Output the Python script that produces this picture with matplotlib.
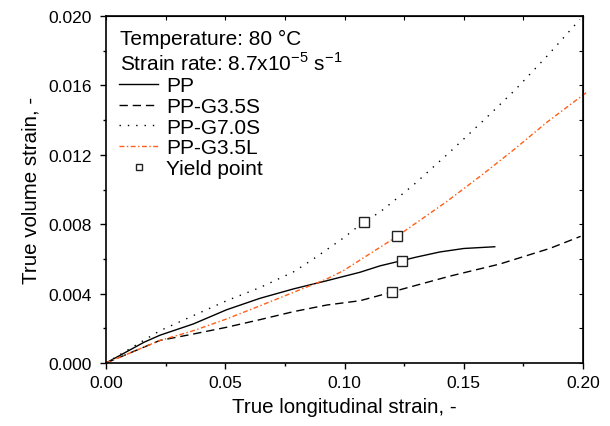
import matplotlib
matplotlib.use("Agg")
import matplotlib.pyplot as plt
from matplotlib.ticker import MultipleLocator, FormatStrFormatter

plt.rcParams['font.family'] = ['Liberation Sans', 'DejaVu Sans']

# ---- data ----
pp_x = [0, 0.016, 0.0226, 0.0366, 0.0506, 0.0646, 0.0786, 0.0925, 0.1065, 0.1149, 0.124, 0.130, 0.140, 0.150, 0.163]
pp_y = [0, 0.0012, 0.0016, 0.00225, 0.00307, 0.00373, 0.00427, 0.00474, 0.00523, 0.0056, 0.0059, 0.0061, 0.0064, 0.0066, 0.0067]

g35s_x = [0, 0.0226, 0.0366, 0.0506, 0.0646, 0.0786, 0.0925, 0.1065, 0.1149, 0.120, 0.144, 0.165, 0.186, 0.199]
g35s_y = [0, 0.0013, 0.00167, 0.00206, 0.0025, 0.00296, 0.00334, 0.00359, 0.0039, 0.0041, 0.0050, 0.0057, 0.0066, 0.0073]

g70s_x = [0, 0.0226, 0.0366, 0.0506, 0.0646, 0.0786, 0.087, 0.0995, 0.1078, 0.1149, 0.1284, 0.1437, 0.1589, 0.1716, 0.1856, 0.1987]
g70s_y = [0, 0.00186, 0.00273, 0.00359, 0.00435, 0.00525, 0.0060, 0.0072, 0.0081, 0.0087, 0.0102, 0.0121, 0.01406, 0.01575, 0.01779, 0.0198]

g35l_x = [0, 0.0226, 0.0366, 0.0506, 0.0646, 0.0786, 0.0925, 0.0995, 0.1149, 0.1216, 0.1272, 0.1428, 0.1582, 0.1715, 0.1848, 0.2015]
g35l_y = [0, 0.0013, 0.00186, 0.00254, 0.0033, 0.00407, 0.00484, 0.00532, 0.00667, 0.00726, 0.0078, 0.0093, 0.0109, 0.01235, 0.01387, 0.0156]

yield_x = [0.124, 0.120, 0.108, 0.122]
yield_y = [0.0059, 0.0041, 0.0081, 0.0073]

series_labels = ['PP', 'PP-G3.5S', 'PP-G7.0S', 'PP-G3.5L', 'Yield point']
orange = '#FF5F17'

fig = plt.figure(figsize=(6.10, 4.27), dpi=100)
ax = fig.add_axes([106/610, 1-364/427, (583-106)/610, (364-17)/427])

ax.plot(pp_x, pp_y, color='black', lw=1.0, ls='-', label=series_labels[0])
ax.plot(g35s_x, g35s_y, color='black', lw=1.0, ls=(0, (6, 3.5)), label=series_labels[1])
ax.plot(g70s_x, g70s_y, color='black', lw=1.0, ls=(0, (1, 5)), label=series_labels[2])
ax.plot(g35l_x, g35l_y, color=orange, lw=1.0, ls=(0, (3.5, 1.8, 1, 1.8)), label=series_labels[3], clip_on=False)
ax.plot(yield_x, yield_y, ls='none', marker='s', ms=7, mfc='white', mec='#222222', mew=1.0,
        label=series_labels[4], zorder=5)

ax.set_xlim(0, 0.20)
ax.set_ylim(0, 0.020)
ax.xaxis.set_major_locator(MultipleLocator(0.05))
ax.xaxis.set_minor_locator(MultipleLocator(0.025))
ax.yaxis.set_major_locator(MultipleLocator(0.004))
ax.yaxis.set_minor_locator(MultipleLocator(0.002))
ax.xaxis.set_major_formatter(FormatStrFormatter('%.2f'))
ax.yaxis.set_major_formatter(FormatStrFormatter('%.3f'))
ax.tick_params(which='major', direction='out', length=4.5, width=1, labelsize=12.5)
ax.tick_params(which='minor', direction='out', length=2.5, width=1)
ax.tick_params(axis='y', which='major', pad=5.5)
ax.tick_params(axis='x', which='major', pad=4)
for s in ax.spines.values():
    s.set_linewidth(1.2)

top = ax.secondary_xaxis('top')
top.xaxis.set_major_locator(MultipleLocator(0.025))
top.tick_params(direction='in', length=3, width=0.8, labeltop=False)
right = ax.secondary_yaxis('right')
right.yaxis.set_major_locator(MultipleLocator(0.002))
right.tick_params(direction='in', length=3, width=0.8, labelright=False)

ax.set_xlabel('True longitudinal strain, -', fontsize=14.8, labelpad=5)
ax.set_ylabel('True volume strain, -', fontsize=14.8, labelpad=6)

fs = 15
ax.text(0.029, 0.934, 'Temperature: 80 °C', transform=ax.transAxes, fontsize=fs, va='center', ha='left')
ax.text(0.029, 0.867, r'Strain rate: 8.7x10$^{\mathregular{-5}}$ s$^{\mathregular{-1}}$', transform=ax.transAxes,
        fontsize=fs, va='center', ha='left')

leg = ax.legend(loc='upper left', bbox_to_anchor=(0.027, 0.826), frameon=False, fontsize=fs,
                handlelength=1.9, handletextpad=0.38, labelspacing=0.08, borderaxespad=0,
                borderpad=0, markerscale=0.65)

fig.savefig('out.png', dpi=100)
